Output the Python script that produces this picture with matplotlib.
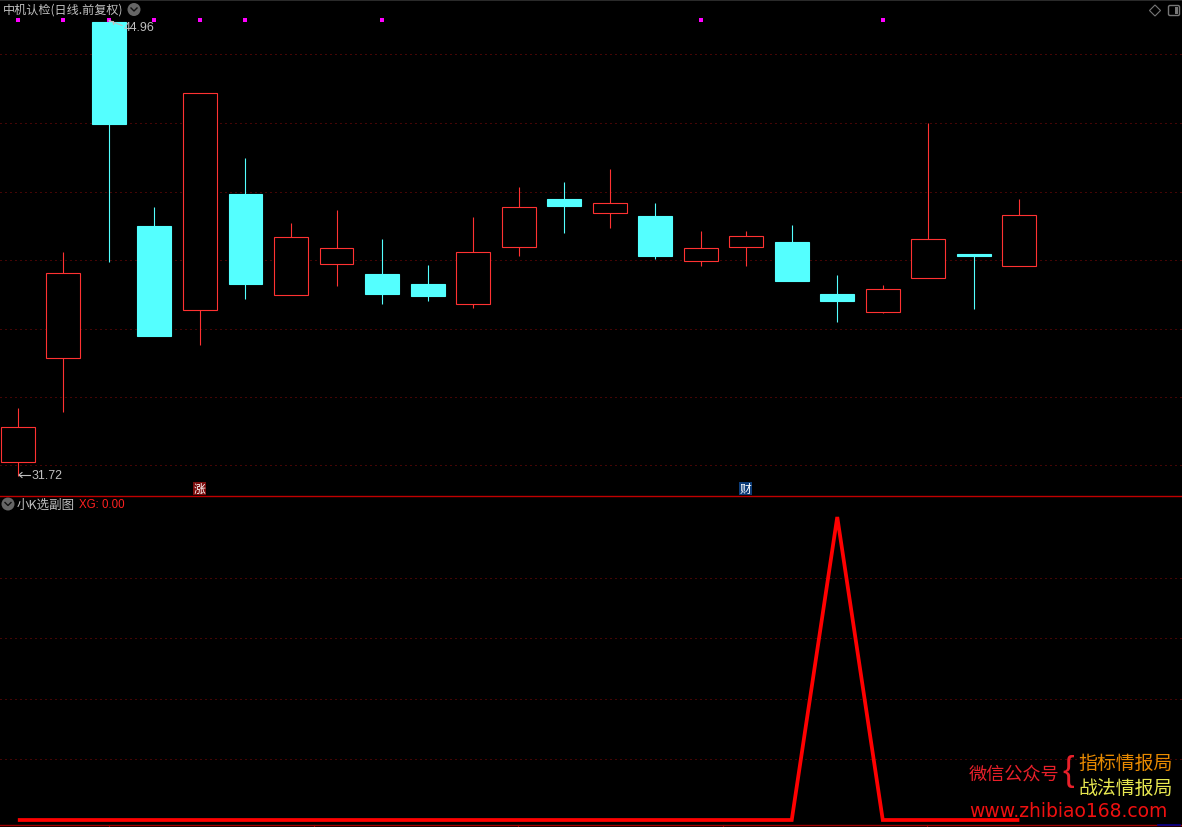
import matplotlib
matplotlib.use("Agg")
import matplotlib.pyplot as plt
from matplotlib.patches import Rectangle, Circle, Polygon, FancyBboxPatch

CJK = ['Noto Sans CJK SC', 'DejaVu Sans']
plt.rcParams['font.family'] = CJK

opens  = [32.13, 35.16, 44.96, 39.01, 36.56, 39.92, 37.00, 37.90, 37.61, 37.32, 36.74, 38.40, 39.80, 39.39, 39.30, 37.99, 38.40, 38.54, 37.03, 36.50, 37.47, 38.19, 37.82]
closes = [33.15, 37.64, 41.96, 35.80, 42.89, 37.32, 38.69, 38.37, 37.03, 36.97, 38.25, 39.54, 39.57, 39.68, 38.14, 38.37, 38.72, 37.41, 36.80, 37.17, 38.63, 38.14, 39.33]
highs  = [33.70, 38.25, 44.96, 39.54, 42.89, 40.99, 39.10, 39.48, 38.63, 37.87, 39.27, 40.15, 40.27, 40.67, 39.68, 38.84, 38.84, 39.04, 37.58, 37.29, 41.99, 38.19, 39.80]
lows   = [31.72, 33.59, 37.96, 35.80, 35.54, 36.88, 37.00, 37.26, 36.74, 36.82, 36.62, 38.14, 38.81, 38.95, 38.05, 37.84, 37.84, 37.41, 36.21, 36.46, 37.47, 36.59, 37.82]
xg     = [0, 0, 0, 0, 0, 0, 0, 0, 0, 0, 0, 0, 0, 0, 0, 0, 0, 0, 1, 0, 0, 0, 0]

signal_idx = [0, 1, 2, 3, 4, 5, 8, 15, 19]
signal_level = 45.02
top_grid = [44.00, 41.99, 40.00, 38.02, 36.00, 34.02, 32.04]
sub_grid = [0.2, 0.4, 0.6, 0.8]
title = "中机认检(日线.前复权)"
sub_title = "小K选副图"
sub_value = "XG: 0.00"

W, H = 1182, 828
BLACK = "#000000"
RED = "#ff3232"
CYAN = "#54ffff"
GRID = "#8a0a0a"
GREY = "#c0c0c0"

fig = plt.figure(figsize=(W / 100, H / 100), dpi=100, facecolor=BLACK)
ax = fig.add_axes([0, 1 - 496 / H, 1, 496 / H], facecolor=BLACK)
sub = fig.add_axes([0, 0, 1, 331 / H], facecolor=BLACK)
ov = fig.add_axes([0, 0, 1, 1], facecolor="none", zorder=10)
ov.set_xlim(0, W); ov.set_ylim(H, 0); ov.axis("off")

xlim = (-0.392, 25.573)
for a in (ax, sub):
    a.set_xlim(*xlim); a.axis("off")
ax.set_ylim(31.158, 45.618)
sub.set_ylim(-0.0231, 1.0693)

for g in top_grid:
    ax.axhline(g, color=GRID, lw=0.72, ls=(0, (1, 4)), zorder=1)
for g in sub_grid:
    sub.axhline(g, color=GRID, lw=0.72, ls=(0, (1, 4)), zorder=1)

bw = 0.745
for i, (o, c, h, l) in enumerate(zip(opens, closes, highs, lows)):
    up = c >= o
    col = RED if up else CYAN
    top, bot = max(o, c), min(o, c)
    if h > top:
        ax.plot([i, i], [top, h], color=col, lw=0.8, zorder=2, solid_capstyle="butt")
    if l < bot:
        ax.plot([i, i], [l, bot], color=col, lw=0.8, zorder=2, solid_capstyle="butt")
    ax.add_patch(Rectangle((i - bw / 2, bot), bw, top - bot,
                           facecolor=BLACK if up else CYAN, edgecolor=col, lw=0.8, zorder=3))

ax.scatter(signal_idx, [signal_level] * len(signal_idx), marker="s", s=5, color="#ff00ff", linewidths=0, zorder=5)
sub.plot(range(len(xg)), xg, color="#ff0000", lw=2.7, zorder=4, solid_joinstyle="miter", solid_capstyle="butt")

# chrome
ov.plot([0, W], [496.5, 496.5], color="#c00000", lw=1)
ov.plot([0, W], [826, 826], color="#a00000", lw=1)
ov.plot([0, W], [1, 1], color="#333333", lw=1.2)
ov.plot([1158, 1180], [826, 826], color="#000090", lw=1.2)
for tx in [109, 314, 518, 723, 927]:
    ov.plot([tx, tx], [826, 828], color="#a00000", lw=0.8)

ov.text(3, 10.5, title, color=GREY, fontsize=8.7, va="center", ha="left", family=CJK)
ov.text(17, 505.5, sub_title, color=GREY, fontsize=9, va="center", ha="left", family=CJK)
ov.text(79, 505.5, sub_value, color="#ff2020", fontsize=8.3, va="center", ha="left", family="Liberation Sans")

for cx, cy in [(134, 10.5), (8, 505)]:
    ov.add_patch(Circle((cx, cy), 6.5, color="#666666", lw=0))
    ov.plot([cx - 3, cx, cx + 3], [cy - 1.5, cy + 1.5, cy - 1.5], color="#111111", lw=1)

# extreme labels
ov.plot([109, 122], [21.5, 26.5], color=GREY, lw=0.8)
ov.plot([109, 113, 113], [21.5, 21.5, 25], color=GREY, lw=0.8)
ov.text(123.5, 28, "44.96", color=GREY, fontsize=8.9, va="center", ha="left", family="Liberation Sans")
ov.plot([19, 30], [476, 476], color=GREY, lw=0.8)
ov.plot([22, 19, 22], [473.5, 476, 478.5], color=GREY, lw=0.8)
ov.text(32, 476.5, "31.72", color=GREY, fontsize=8.9, va="center", ha="left", family="Liberation Sans")

# badges
for cx, ch, bg in [(199.5, "涨", "#7a0c0c"), (745.5, "财", "#0c3c78")]:
    ov.add_patch(Rectangle((cx - 6.5, 482.5), 13, 13, color=bg, lw=0))
    ov.text(cx, 489, ch, color="white", fontsize=8.5, va="center", ha="center", family=CJK)

# top right icons
ov.add_patch(Polygon([(1155, 6), (1160.5, 11.5), (1155, 17), (1149.5, 11.5)], fill=False, edgecolor="#777777", lw=0.8))
ov.add_patch(FancyBboxPatch((1168.5, 6.5), 11, 10, boxstyle="round,pad=0,rounding_size=1.5", fill=False, edgecolor="#777777", lw=1))
ov.add_patch(Rectangle((1175, 8), 3, 7, color="#777777", lw=0))

# watermark
ov.text(969, 775, "微信公众号", color="#e8202a", fontsize=13.1, va="center", ha="left", family=CJK)
ov.text(1068, 772, "{", color="#e8202a", fontsize=25, va="center", ha="center", family="Liberation Sans", fontweight="light")
ov.text(1078, 763, "指标情报局", color="#e88a00", fontsize=13.6, va="center", ha="left", family=CJK)
ov.text(1078, 788, "战法情报局", color="#e8e850", fontsize=13.6, va="center", ha="left", family=CJK)
ov.text(969, 812, "www.zhibiao168.com", color="#ee1010", fontsize=13.5, va="center", ha="left", family="DejaVu Sans")

fig.savefig("out.png", dpi=100, facecolor=BLACK)
